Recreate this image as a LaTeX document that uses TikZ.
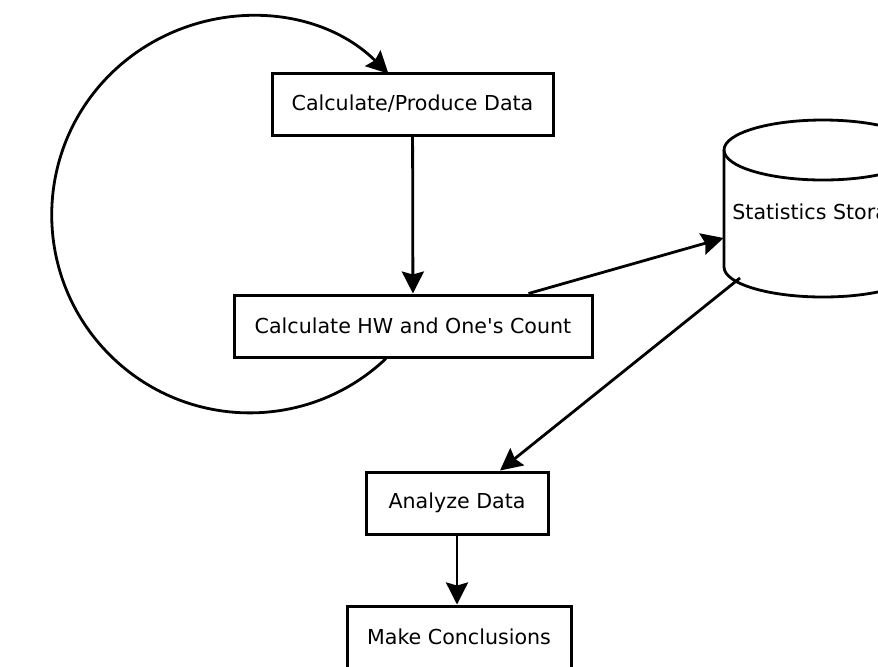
\documentclass[tikz,border=0pt]{standalone}
\usepackage{fontspec}
\setmainfont{DejaVu Sans}
\usetikzlibrary{arrows.meta}
\tikzset{
  box/.style={draw, line width=1.5pt, minimum height=31pt, inner sep=2pt,
    font=\fontsize{10.3}{12}\selectfont},
  arr/.style={line width=1.4pt, -{Stealth[length=11pt,width=11pt,inset=1.5pt]}}
}
\begin{document}
\begin{tikzpicture}[x=0.5pt,y=0.5pt]
      \useasboundingbox (0,0) rectangle (878,-666);
      \draw
        (412.5,-104) node[box, minimum width=140.5pt] (produce){Calculate/Produce Data}
        (413,-326) node[box, minimum width=179pt] (hw){Calculate HW and One\textquotesingle s Count}
        (457,-503) node[box, minimum width=91pt] (analyze){Analyze Data}
        (459,-637) node[box, minimum width=112pt] (conclude){Make Conclusions}
        (823,-214) node[minimum width=99pt, minimum height=88.5pt,
          font=\fontsize{10.3}{12}\selectfont] (store){Statistics Storage};
      % cylinder outline
      \begin{scope}[shift={(store.center)}, line width=1.4pt]
        \draw (0,64) ellipse [x radius=99, y radius=30];
        \draw (-99,64) -- (-99,-53)
          arc[start angle=180, end angle=360, x radius=99, y radius=30]
          -- (99,64);
      \end{scope}
      \begin{scope}[arr]
        \draw (produce) -- (hw);
        \draw ([xshift=-32.5pt]hw.north east) -- ([yshift=-12pt]store.west);
        \draw ([shift={(-83,-64)}]store.center) -- ([xshift=21.5pt]analyze.north);
        \draw (analyze.south) -- (analyze.south |- conclude.north);
        \draw ([xshift=-13.5pt]hw.south) arc[start angle=-46.5, end angle=-314.5, radius=198];
      \end{scope}
    \end{tikzpicture}
\end{document}
